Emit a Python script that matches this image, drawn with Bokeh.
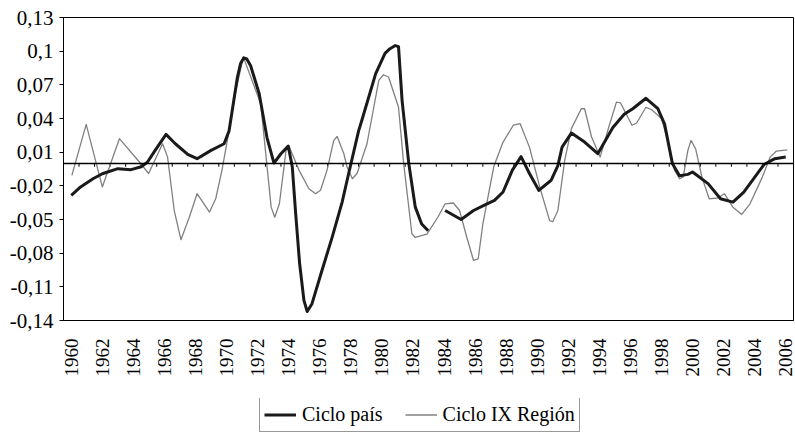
import numpy as np
from bokeh.plotting import figure
from bokeh.layouts import column
from bokeh.models import Range1d, FixedTicker, Span, Legend, LegendItem
from bokeh.embed import file_html
from bokeh.resources import INLINE

# ---- data ----
pais_year = [1960.0, 1960.6, 1961.4, 1962.0, 1963.0, 1963.85, 1964.5, 1964.9, 1965.4, 1966.1,
             1966.7, 1967.5, 1968.1, 1969.0, 1969.84, 1970.16, 1970.7, 1970.9, 1971.1, 1971.3,
             1971.55, 1972.1, 1972.6, 1973.05, 1973.5, 1973.97, 1974.23, 1974.45, 1974.7, 1974.98,
             1975.19, 1975.5, 1976.15, 1976.8, 1977.44, 1977.86, 1978.5, 1978.7, 1979.6, 1980.2,
             1980.5, 1980.86, 1981.07, 1981.3, 1981.73, 1982.15, 1982.56, 1982.98, 1983.5,
             1984.07, 1985.1, 1985.9, 1986.7, 1987.25, 1987.8, 1988.4, 1988.96, 1989.5, 1990.1,
             1990.9, 1991.33, 1991.6, 1992.2, 1993.05, 1993.9, 1994.87, 1995.6, 1996.15, 1997.0,
             1997.77, 1998.2, 1998.7, 1999.16, 1999.7, 2000.0, 2001.0, 2001.8, 2002.6, 2003.3,
             2004.6, 2005.3, 2006.0]
pais_val = [-0.0285, -0.021, -0.0137, -0.0092, -0.0047, -0.0056, -0.003, 0.001, 0.0116, 0.0258,
            0.0175, 0.008, 0.0042, 0.0116, 0.0175, 0.029, 0.077, 0.089, 0.094, 0.093,
            0.087, 0.062, 0.023, 0.0003, 0.0086, 0.0154, -0.003, -0.045, -0.089, -0.122,
            -0.132, -0.125, -0.095, -0.0657, -0.0345, -0.009, 0.029, 0.038, 0.080, 0.098,
            0.102, 0.105, 0.104, 0.056, 0.0, -0.039, -0.054, -0.060, np.nan,
            -0.042, -0.050, -0.042, -0.0365, -0.033, -0.0255, -0.006, 0.006, -0.009, -0.024,
            -0.015, -0.002, 0.0145, 0.027, 0.019, 0.0086, 0.032, 0.0437, 0.0487, 0.058,
            0.0487, 0.035, 0.0, -0.011, -0.0098, -0.0077, -0.018, -0.0315, -0.0345, -0.0256,
            -0.001, 0.0042, 0.0056]

region_year = [1960.04, 1960.96, 1962.0, 1963.1, 1964.4, 1964.98, 1965.88, 1966.2, 1966.63, 1967.06,
               1967.6, 1968.1, 1968.9, 1969.3, 1969.7, 1970.05, 1970.6, 1971.08, 1972.2, 1972.5,
               1972.87, 1973.1, 1973.4, 1973.83, 1974.04, 1974.66, 1975.3, 1975.73, 1976.05, 1976.47,
               1976.9, 1977.12, 1977.55, 1977.75, 1978.1, 1978.4, 1979.04, 1979.8, 1980.1, 1980.43,
               1981.07, 1981.4, 1981.93, 1982.15, 1982.9, 1983.6, 1984.07, 1984.6, 1985.0, 1985.47,
               1985.9, 1986.2, 1986.5, 1987.2, 1987.8, 1988.46, 1988.9, 1989.5, 1990.16, 1990.8,
               1991.0, 1991.33, 1991.77, 1992.2, 1992.84, 1993.05, 1993.5, 1994.05, 1994.6, 1995.1,
               1995.36, 1996.1, 1996.4, 1997.0, 1997.35, 1998.0, 1998.4, 1998.84, 1999.16, 1999.4,
               1999.7, 1999.9, 2000.2, 2000.6, 2001.07, 2001.6, 2002.05, 2002.6, 2003.17, 2003.7,
               2004.5, 2005.0, 2005.4, 2006.1]
region_val = [-0.0107, 0.0348, -0.021, 0.022, 0.001, -0.009, 0.0175, 0.0056, -0.042, -0.068,
              -0.048, -0.027, -0.0434, -0.0315, -0.0062, 0.0205, 0.065, 0.0947, 0.053, 0.0116,
              -0.039, -0.048, -0.036, 0.0116, 0.0145, -0.006, -0.0226, -0.027, -0.024, -0.006,
              0.0205, 0.024, 0.0086, -0.003, -0.0137, -0.009, 0.0175, 0.074, 0.079, 0.077,
              0.050, 0.0, -0.0627, -0.066, -0.063, -0.048, -0.036, -0.0353, -0.042, -0.066,
              -0.0865, -0.085, -0.054, -0.003, 0.019, 0.034, 0.0354, 0.0145, -0.021, -0.051,
              -0.052, -0.042, 0.0027, 0.031, 0.0487, 0.0487, 0.0235, 0.0056, 0.032, 0.0546,
              0.054, 0.034, 0.036, 0.050, 0.048, 0.040, 0.0205, -0.006, -0.0137, -0.012,
              0.0116, 0.0205, 0.013, -0.012, -0.0315, -0.031, -0.027, -0.039, -0.0455, -0.036,
              -0.012, 0.0056, 0.011, 0.012]

years = list(range(1960, 2007))
year_labels = list(range(1960, 2007, 2))
y_ticks = [0.13, 0.10, 0.07, 0.04, 0.01, -0.02, -0.05, -0.08, -0.11, -0.14]
y_tick_labels = ["0,13", "0,1", "0,07", "0,04", "0,01", "-0,02", "-0,05", "-0,08", "-0,11", "-0,14"]
series_names = ["Ciclo país", "Ciclo IX Región"]

FONT = "Liberation Serif"
PAIS_STYLE = dict(line_color="#1a1a1a", line_width=3, line_join="round")
REGION_STYLE = dict(line_color="#808080", line_width=1.3, line_join="round")

p = figure(width=795, height=398,
           x_range=Range1d(years[0] - 0.5, years[-1] + 0.5),
           y_range=Range1d(min(y_ticks), max(y_ticks)),
           output_backend="svg", toolbar_location=None,
           min_border_left=63, min_border_right=2, min_border_top=17, min_border_bottom=78)

p.xgrid.visible = False
p.ygrid.visible = False
p.outline_line_color = "black"
p.outline_line_width = 1
p.background_fill_color = "white"
p.border_fill_color = "white"

# y axis
p.yaxis.ticker = FixedTicker(ticks=y_ticks)
p.yaxis.major_label_overrides = {t: s for t, s in zip(y_ticks, y_tick_labels)}
p.yaxis.major_label_text_font = FONT
p.yaxis.major_label_text_font_size = "21px"
p.yaxis.major_label_text_color = "black"
p.yaxis.major_tick_out = 4
p.yaxis.major_tick_in = 0
p.yaxis.minor_tick_line_color = None
p.yaxis.major_label_standoff = 6
p.yaxis.axis_line_color = "black"
p.yaxis.major_tick_line_color = "black"

# x axis (labels at bottom)
p.xaxis.ticker = FixedTicker(ticks=year_labels)
p.xaxis.major_label_orientation = np.pi / 2
p.xaxis.major_label_text_font = FONT
p.xaxis.major_label_text_font_size = "19px"
p.xaxis.major_label_text_color = "black"
p.xaxis.major_tick_out = 0
p.xaxis.major_tick_in = 0
p.xaxis.major_tick_line_color = None
p.xaxis.minor_tick_line_color = None
p.xaxis.major_label_standoff = 18
p.xaxis.axis_line_color = "black"

# zero line with category tick marks
p.add_layout(Span(location=0, dimension="width", line_color="black", line_width=1.5))
bounds = [y + 0.5 for y in years[:-1]]
p.segment(x0=bounds, y0=[0] * len(bounds), x1=bounds, y1=[-0.003] * len(bounds),
          line_color="black", line_width=1)

p.line(region_year, region_val, **REGION_STYLE)
p.line(pais_year, pais_val, **PAIS_STYLE)

# legend strip below the chart (its frame is aligned with the chart's frame)
q = figure(width=795, height=34, x_range=Range1d(0, 1), y_range=Range1d(0, 1),
           output_backend="svg", toolbar_location=None,
           x_axis_type=None, y_axis_type=None, min_border=0)
q.xgrid.visible = False
q.ygrid.visible = False
q.outline_line_color = None
q.background_fill_color = "white"
q.border_fill_color = "white"
lr_pais = q.line(x=[np.nan], y=[np.nan], **PAIS_STYLE)
lr_region = q.line(x=[np.nan], y=[np.nan], **REGION_STYLE)

legend = Legend(items=[LegendItem(label=series_names[0], renderers=[lr_pais]),
                       LegendItem(label=series_names[1], renderers=[lr_region])],
                orientation="horizontal", location=(196, 0),
                padding=4, spacing=22, margin=0,
                glyph_width=32, glyph_height=25, label_height=25, label_standoff=6,
                label_text_font=FONT, label_text_font_size="20px", label_text_color="black",
                border_line_color="#333333", border_line_width=1,
                background_fill_color="white", background_fill_alpha=1)
q.add_layout(legend)

layout = column(p, q, spacing=0)
open("out.html", "w").write(file_html(layout, INLINE))
